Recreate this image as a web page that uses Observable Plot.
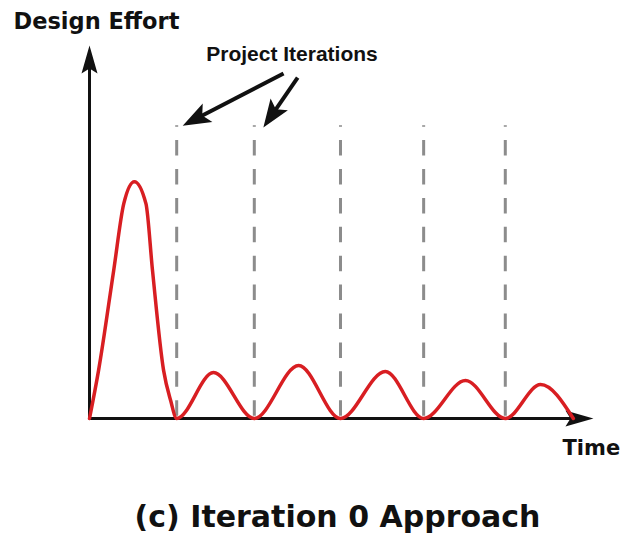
<!DOCTYPE html>
<html>
<head>
<meta charset="utf-8">
<script src="https://cdn.jsdelivr.net/npm/d3@7"></script>
<script src="https://cdn.jsdelivr.net/npm/@observablehq/plot@0.6"></script>
<style>
  html, body { margin: 0; padding: 0; background: #ffffff; }
  #chart svg { display: block; }
</style>
</head>
<body>
<div id="chart"></div>
<script>
// ---- data ----
const time   = [0, 1.8, 4.8, 6.8, 8.9, 11.2, 12.5, 14.7, 16.1, 17.3, 24.6, 32.7, 41.5, 49.8, 58.7, 66.3, 74.6, 82.5, 89.5, 96.0];
const effort = [0, 12.9, 39.7, 57.6, 63.5, 57.6, 39.7, 12.9, 4.8, 0, 12.3, 0, 14.2, 0, 12.6, 0, 10.2, 0, 9.1, 0];
const iterationStarts = [17.3, 32.7, 49.8, 66.3, 82.5];
const iterationTop = 78.5;
const pointerFrom = [[38.5, 92.5], [41.3, 91.4]];
const pointerTo   = [[19.9, 79.5], [35.4, 79.8]];
const axisEnd = {x: 98.8, y: 98.4};
const labels = {
  yAxis: "Design Effort",
  xAxis: "Time",
  pointer: "Project Iterations",
  title: "(c) Iteration 0 Approach"
};

const curve = time.map((t, i) => ({t, e: effort[i]}));
const pointers = pointerFrom.map((p, i) => ({x1: p[0], y1: p[1], x2: pointerTo[i][0], y2: pointerTo[i][1]}));
const axes = [
  {x1: 0, y1: 0, x2: axisEnd.x, y2: 0},
  {x1: 0, y1: 0, x2: 0, y2: axisEnd.y}
];

function filledArrow(d) {
  return (color) => {
    const ns = "http://www.w3.org/2000/svg";
    const m = document.createElementNS(ns, "marker");
    m.setAttribute("viewBox", "-40 -20 60 40");
    m.setAttribute("markerUnits", "userSpaceOnUse");
    m.setAttribute("markerWidth", 60);
    m.setAttribute("markerHeight", 40);
    m.setAttribute("refX", 0);
    m.setAttribute("refY", 0);
    m.setAttribute("orient", "auto");
    m.setAttribute("overflow", "visible");
    const p = document.createElementNS(ns, "path");
    p.setAttribute("d", d);
    p.setAttribute("fill", color);
    p.setAttribute("stroke", "none");
    m.appendChild(p);
    return m;
  };
}
const axisHead = filledArrow("M6,0 L-22,-8 L-17,0 L-22,8 Z");
const pointerHead = filledArrow("M8,0 L-20,-10.5 L-14,0 L-20,10.5 Z");

const wide = "DejaVu Sans, sans-serif";
const narrow = "Liberation Sans, Arial, sans-serif";

const plot = Plot.plot({
  width: 625,
  height: 539,
  marginLeft: 89,
  marginRight: 32,
  marginTop: 45,
  marginBottom: 121,
  x: {domain: [0, 100], axis: null},
  y: {domain: [0, 100], axis: null},
  style: {background: "#ffffff", overflow: "visible", color: "#111"},
  marks: [
    Plot.link(axes, {x1: "x1", y1: "y1", x2: "x2", y2: "y2", stroke: "#111", strokeWidth: 3, strokeLinecap: "butt", markerEnd: axisHead}),
    Plot.ruleX(iterationStarts, {x: d => d, y1: iterationTop, y2: 0, stroke: "#8c8c8c", strokeWidth: 3, strokeDasharray: "15.5,13.4", strokeDashoffset: 14}),
    Plot.line(curve, {x: "t", y: "e", curve: "monotone-x", stroke: "#d81e22", strokeWidth: 3.5}),
    Plot.link(pointers, {x1: "x1", y1: "y1", x2: "x2", y2: "y2", stroke: "#111", strokeWidth: 4, strokeLinecap: "butt", markerEnd: pointerHead}),
    Plot.text([labels.yAxis], {text: d => d, frameAnchor: "top-left", dx: -76, dy: -16.5, textAnchor: "start", lineAnchor: "bottom", fontFamily: wide, fontWeight: "bold", fontSize: 22.5, fill: "#111"}),
    Plot.text([labels.pointer], {text: d => d, frameAnchor: "top-left", dx: 202.5, dy: 15, textAnchor: "middle", lineAnchor: "bottom", fontFamily: narrow, fontWeight: "bold", fontSize: 21, fill: "#111"}),
    Plot.text([labels.xAxis], {text: d => d, frameAnchor: "bottom-right", dx: -31, dy: 36, textAnchor: "start", lineAnchor: "bottom", fontFamily: wide, fontWeight: "bold", fontSize: 21, fill: "#111"}),
    Plot.text([labels.title], {text: d => d, frameAnchor: "bottom", dx: -4, dy: 108, textAnchor: "middle", lineAnchor: "bottom", fontFamily: wide, fontWeight: "bold", fontSize: 30, fill: "#111"})
  ]
});
document.getElementById("chart").appendChild(plot);
</script>
</body>
</html>
